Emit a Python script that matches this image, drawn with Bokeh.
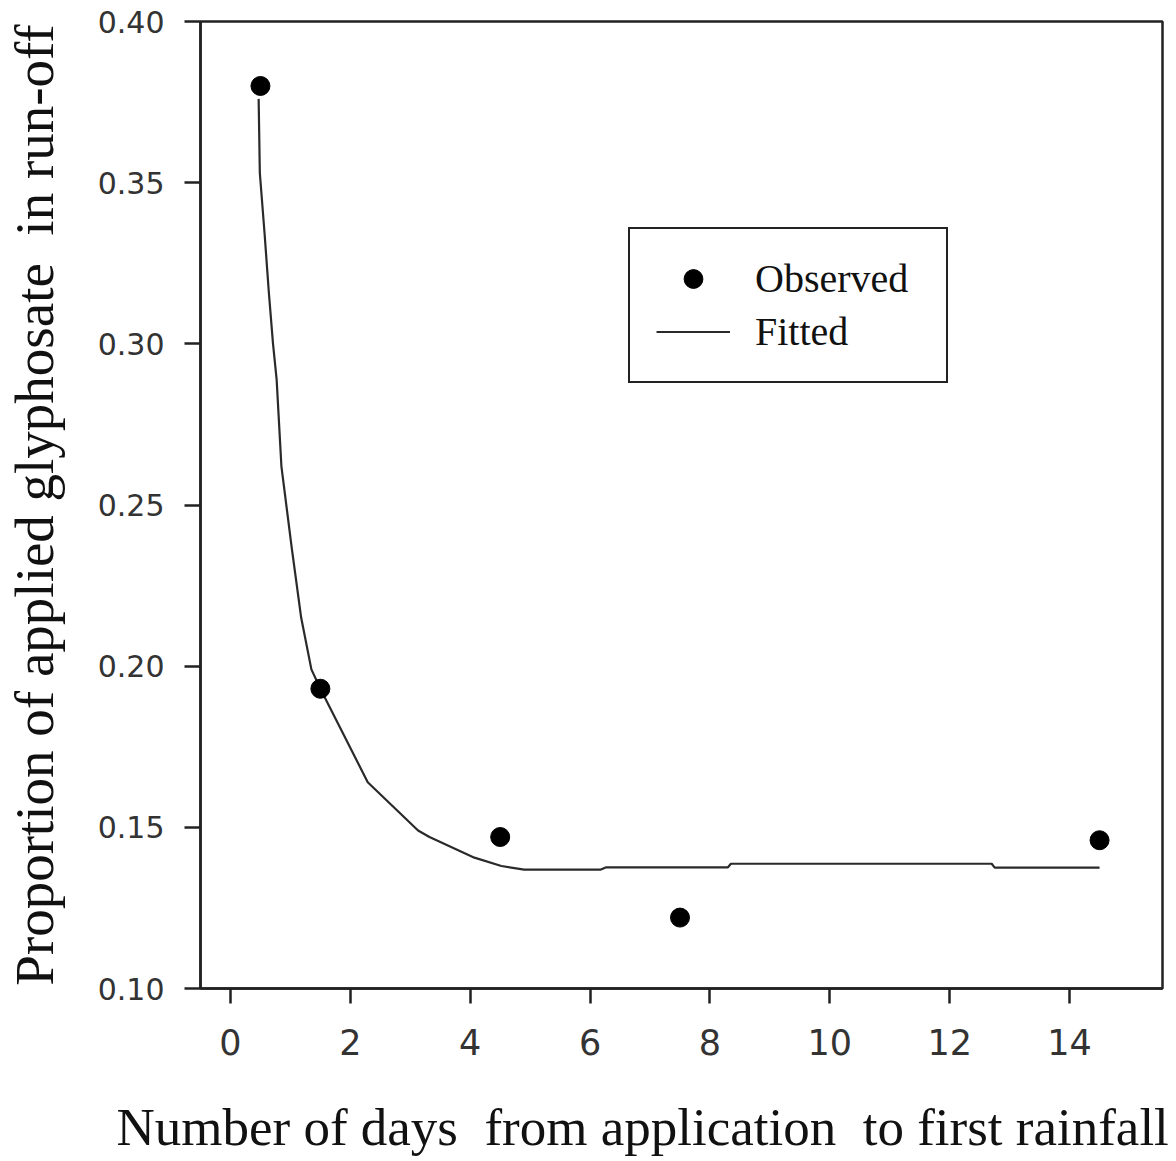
from bokeh.plotting import figure
from bokeh.models import (Range1d, FixedTicker, NumeralTickFormatter, Legend, LegendItem,
                          ColumnDataSource, Title)
from bokeh.embed import file_html
from bokeh.resources import INLINE

# Observed proportion of applied glyphosate lost in run-off
obs_days = [0.5, 1.5, 4.5, 7.5, 14.5]
obs_prop = [0.380, 0.193, 0.147, 0.122, 0.146]

# Fitted curve
fit_days = [0.47, 0.49, 0.57, 0.64, 0.71, 0.77, 0.85, 1.02, 1.18, 1.35, 1.5,
            2.29, 3.13, 3.32, 4.07, 4.52, 4.9, 6.18, 6.27, 8.3, 8.35, 12.7, 12.75, 14.5]
fit_prop = [0.376, 0.353, 0.334, 0.316, 0.300, 0.289, 0.262, 0.237, 0.215, 0.199, 0.193,
            0.164, 0.149, 0.147, 0.1406, 0.138, 0.1369, 0.1369, 0.1376, 0.1376, 0.1387,
            0.1387, 0.1375, 0.1375]

x_ticks = [0, 2, 4, 6, 8, 10, 12, 14]
y_ticks = [0.10, 0.15, 0.20, 0.25, 0.30, 0.35, 0.40]

x_title = "Number of days\u00a0 from application\u00a0 to first rainfall"
y_title = "Proportion of applied glyphosate\u00a0 in run-off"

p = figure(width=1176, height=1161, output_backend="svg", toolbar_location=None,
           x_range=Range1d(-0.5, 15.55), y_range=Range1d(0.10, 0.40),
           min_border_left=199, min_border_right=14, min_border_top=21,
           min_border_bottom=173)
p.background_fill_color = "white"
p.border_fill_color = "white"
p.outline_line_color = "#222222"
p.outline_line_width = 2.5
p.grid.visible = False

fit_src = ColumnDataSource(dict(x=fit_days, y=fit_prop))
obs_src = ColumnDataSource(dict(x=obs_days, y=obs_prop))

fit_r = p.line("x", "y", source=fit_src, line_color="#2a2a2a", line_width=2.2)
obs_r = p.scatter("x", "y", source=obs_src, size=19, marker="circle",
                  fill_color="black", line_color="black")

# Axes
for ax in (p.xaxis[0], p.yaxis[0]):
    ax.axis_line_color = "#222222"
    ax.axis_line_width = 2.5
    ax.major_tick_line_color = "#222222"
    ax.major_tick_line_width = 2.5
    ax.major_tick_in = 0
    ax.minor_tick_line_color = None
    ax.major_label_text_color = "#333333"
    ax.major_label_text_font = "DejaVu Sans"

p.xaxis.ticker = FixedTicker(ticks=x_ticks)
p.xaxis.major_tick_out = 15
p.xaxis.major_label_standoff = 25
p.xaxis.major_label_text_font_size = "35px"

p.yaxis.ticker = FixedTicker(ticks=y_ticks)
p.yaxis.formatter = NumeralTickFormatter(format="0.00")
p.yaxis.major_tick_out = 16
p.yaxis.major_label_standoff = 20
p.yaxis.major_label_text_font_size = "30px"
p.yaxis.axis_label = y_title
p.yaxis.axis_label_standoff = 30
p.yaxis.axis_label_text_font = "Liberation Serif"
p.yaxis.axis_label_text_font_size = "55px"
p.yaxis.axis_label_text_font_style = "normal"
p.yaxis.axis_label_text_color = "#111111"

# x-axis title as a panel title, shifted left of the frame edge;
# padding is (left, right, top, bottom)
xt = Title(text=x_title, align="left", offset=-84, standoff=6, padding=(0, 0, 35, 0),
           text_font="Liberation Serif", text_font_size="53px",
           text_font_style="normal", text_color="#111111")
p.add_layout(xt, "below")

legend = Legend(items=[LegendItem(label="Observed", renderers=[obs_r]),
                       LegendItem(label="Fitted", renderers=[fit_r])],
                location=(428, 605))
legend.label_text_font = "Liberation Serif"
legend.label_text_font_size = "40px"
legend.label_text_color = "#111111"
legend.glyph_width = 74
legend.glyph_height = 47
legend.label_height = 47
legend.label_width = 165
legend.label_standoff = 25
legend.spacing = 6
legend.padding = 26
legend.margin = 0
legend.border_line_color = "#222222"
legend.border_line_alpha = 1.0
legend.border_line_width = 2.5
legend.background_fill_color = "white"
legend.background_fill_alpha = 1.0
p.add_layout(legend)

open("out.html", "w").write(file_html(p, INLINE))
